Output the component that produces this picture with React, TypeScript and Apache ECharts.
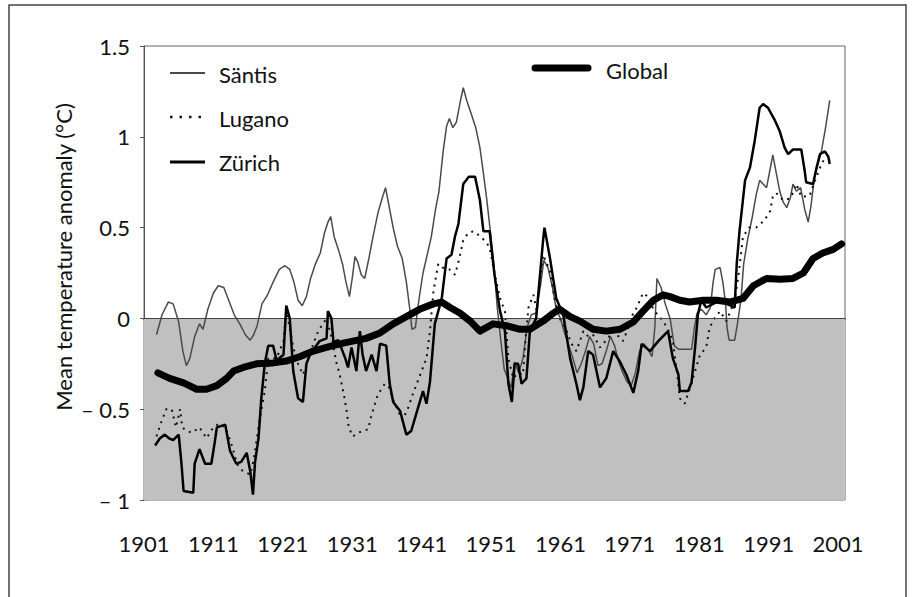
import React, { useEffect, useRef } from "react";
import * as echarts from "echarts";

// ---- Data ----
const santisYears = [1902.8,1903.6,1904.5,1905.2,1906.0,1906.6,1907.1,1907.6,1908.3,1909.0,1909.5,1910.2,1911.0,1911.7,1912.5,1913.2,1914.0,1914.8,1915.6,1916.3,1916.8,1917.3,1918.0,1918.8,1919.6,1920.5,1921.3,1922.0,1922.6,1923.2,1923.8,1924.4,1925.0,1925.7,1926.4,1927.0,1927.5,1927.9,1928.4,1929.0,1929.6,1930.1,1930.6,1931.0,1931.4,1931.8,1932.3,1932.8,1933.4,1934.0,1934.7,1935.3,1935.8,1936.3,1936.9,1937.5,1938.2,1938.8,1939.3,1939.6,1940.1,1940.6,1941.2,1941.8,1942.4,1943.0,1943.5,1944.1,1944.6,1945.0,1945.5,1946.0,1946.6,1947.0,1947.5,1948.2,1948.8,1949.4,1949.9,1950.4,1950.9,1951.4,1951.9,1952.4,1952.9,1953.4,1953.9,1954.4,1955.0,1955.6,1956.2,1956.8,1957.5,1958.2,1958.6,1959.2,1959.8,1960.4,1961.0,1961.6,1962.2,1962.8,1963.4,1964.0,1964.6,1965.2,1965.8,1966.4,1967.0,1967.6,1968.2,1968.8,1969.4,1970.0,1970.6,1971.2,1971.8,1972.4,1973.0,1973.6,1974.2,1974.6,1974.9,1975.5,1976.1,1976.8,1977.4,1978.0,1979.0,1979.9,1980.3,1980.7,1981.3,1982.0,1982.6,1983.0,1983.3,1984.0,1984.4,1984.8,1985.0,1985.3,1986.1,1986.5,1987.0,1987.4,1988.0,1988.6,1989.2,1989.7,1990.2,1990.7,1991.2,1991.6,1992.1,1992.6,1993.1,1993.6,1994.1,1994.5,1995.0,1995.6,1996.2,1996.7,1997.1,1997.6,1998.1,1998.6,1999.2,1999.8];
const santisValues = [-0.09,0.02,0.09,0.08,-0.02,-0.18,-0.26,-0.22,-0.1,-0.03,-0.06,0.05,0.14,0.18,0.17,0.1,0.02,-0.03,-0.09,-0.12,-0.09,-0.04,0.08,0.13,0.2,0.27,0.29,0.27,0.2,0.1,0.07,0.12,0.22,0.3,0.36,0.47,0.53,0.56,0.45,0.38,0.3,0.2,0.12,0.22,0.34,0.31,0.24,0.22,0.33,0.45,0.58,0.66,0.72,0.62,0.5,0.4,0.33,0.2,0.05,-0.06,-0.05,0.1,0.25,0.35,0.45,0.6,0.7,0.92,1.06,1.1,1.05,1.08,1.2,1.27,1.2,1.12,1.05,0.94,0.8,0.65,0.48,0.3,0.06,-0.12,-0.28,-0.33,-0.38,-0.24,-0.3,-0.22,-0.05,0.02,0.03,0.2,0.32,0.28,0.18,0.05,0.0,-0.08,-0.15,-0.22,-0.3,-0.25,-0.18,-0.1,-0.14,-0.26,-0.25,-0.18,-0.1,-0.15,-0.24,-0.3,-0.35,-0.37,-0.3,-0.18,-0.14,-0.17,-0.21,-0.05,0.22,0.17,0.08,0.0,-0.15,-0.17,-0.17,-0.17,-0.05,0.03,0.05,0.02,0.06,0.2,0.27,0.28,0.2,0.08,-0.05,-0.12,-0.12,-0.03,0.1,0.3,0.44,0.55,0.68,0.76,0.74,0.72,0.82,0.9,0.8,0.7,0.64,0.61,0.66,0.74,0.7,0.72,0.6,0.53,0.62,0.78,0.85,0.92,1.05,1.2];

const luganoYears = [1902.8,1903.5,1904.2,1905.0,1905.6,1906.2,1906.5,1907.2,1907.9,1909.0,1910.0,1911.0,1911.8,1912.7,1913.5,1914.4,1915.2,1916.3,1916.8,1917.3,1917.7,1918.4,1918.9,1920.1,1921.1,1921.5,1922.0,1922.5,1923.2,1923.9,1924.7,1925.4,1926.1,1927.3,1928.0,1928.7,1929.2,1929.8,1930.2,1930.5,1931.1,1931.8,1932.6,1933.3,1933.8,1934.7,1935.7,1936.3,1936.8,1937.5,1938.2,1939.0,1939.7,1940.3,1940.8,1941.7,1942.2,1942.7,1943.4,1944.0,1945.0,1945.8,1946.3,1947.0,1947.7,1948.5,1949.5,1950.3,1950.8,1951.5,1952.3,1953.0,1953.5,1954.2,1954.9,1955.6,1956.0,1956.4,1957.1,1957.6,1958.0,1958.5,1959.5,1960.2,1960.9,1961.9,1962.6,1963.3,1964.3,1965.0,1965.7,1966.7,1967.6,1968.6,1969.4,1970.0,1970.8,1971.4,1972.0,1972.9,1973.6,1974.4,1975.0,1975.8,1976.5,1977.2,1977.8,1978.2,1978.9,1979.7,1980.4,1981.1,1982.0,1982.5,1983.2,1984.0,1984.9,1985.5,1986.1,1986.7,1987.3,1988.2,1989.2,1990.4,1991.2,1991.6,1992.1,1993.1,1994.0,1994.5,1995.0,1995.7,1996.9,1997.6,1998.4,1998.9];
const luganoValues = [-0.65,-0.57,-0.5,-0.5,-0.6,-0.5,-0.6,-0.62,-0.63,-0.6,-0.66,-0.6,-0.58,-0.6,-0.68,-0.8,-0.84,-0.86,-0.78,-0.65,-0.55,-0.4,-0.22,-0.22,-0.125,0.04,-0.05,-0.16,-0.25,-0.31,-0.22,-0.14,-0.07,0.0,-0.1,-0.24,-0.31,-0.42,-0.51,-0.6,-0.65,-0.63,-0.62,-0.61,-0.53,-0.42,-0.36,-0.38,-0.44,-0.5,-0.56,-0.5,-0.42,-0.36,-0.31,-0.22,-0.07,0.15,0.3,0.28,0.27,0.24,0.31,0.43,0.47,0.48,0.45,0.42,0.39,0.25,0.11,0.04,-0.22,-0.33,-0.3,-0.31,-0.1,0.06,0.13,0.04,0.2,0.35,0.26,0.1,0.0,-0.07,-0.14,-0.18,-0.07,-0.1,-0.09,-0.16,-0.12,-0.07,-0.1,-0.125,-0.05,0.02,0.06,0.14,0.12,0.05,0.02,-0.015,-0.06,-0.125,-0.3,-0.44,-0.47,-0.38,-0.29,-0.2,-0.16,-0.05,0.0,0.04,-0.015,0.04,0.1,0.25,0.45,0.5,0.5,0.54,0.59,0.67,0.69,0.65,0.66,0.69,0.74,0.67,0.675,0.75,0.83,0.87];

const zurichYears = [1902.6,1903.3,1904.0,1904.6,1905.2,1906.0,1906.4,1906.7,1908.1,1908.3,1909.0,1909.8,1910.7,1911.2,1911.5,1912.7,1913.4,1914.3,1915.0,1915.8,1916.3,1916.7,1917.0,1917.5,1917.9,1918.4,1918.9,1919.6,1920.1,1921.1,1921.5,1922.0,1922.5,1923.2,1923.9,1924.4,1924.9,1926.3,1927.3,1927.5,1928.0,1928.3,1929.0,1930.0,1930.4,1930.9,1931.6,1932.1,1932.5,1933.0,1933.8,1934.5,1935.0,1935.9,1936.4,1936.9,1937.9,1938.8,1939.5,1940.5,1941.2,1941.7,1942.2,1942.9,1943.9,1944.6,1945.3,1945.8,1946.3,1947.0,1947.8,1948.7,1949.4,1949.9,1950.8,1951.5,1952.3,1953.0,1953.5,1954.0,1954.4,1954.9,1955.4,1956.1,1956.6,1957.5,1958.5,1958.7,1959.5,1960.4,1961.4,1962.4,1963.3,1963.8,1964.3,1965.0,1965.7,1966.7,1967.6,1968.6,1969.6,1970.5,1971.5,1972.2,1972.7,1973.9,1975.1,1976.5,1977.2,1978.0,1978.2,1979.4,1979.9,1980.4,1980.8,1981.3,1982.0,1983.0,1984.0,1985.0,1986.1,1986.4,1986.8,1987.6,1988.3,1989.0,1989.7,1990.2,1990.9,1991.9,1992.6,1993.3,1993.8,1994.5,1995.7,1996.2,1996.4,1997.4,1997.9,1998.4,1999.1,1999.6,1999.8];
const zurichValues = [-0.7,-0.66,-0.64,-0.66,-0.67,-0.64,-0.8,-0.95,-0.96,-0.8,-0.72,-0.8,-0.8,-0.68,-0.6,-0.585,-0.73,-0.8,-0.79,-0.74,-0.84,-0.97,-0.79,-0.66,-0.44,-0.25,-0.15,-0.15,-0.23,-0.2,0.07,0.0,-0.29,-0.44,-0.46,-0.25,-0.2,-0.125,-0.11,0.04,0.0,-0.13,-0.12,-0.22,-0.27,-0.16,-0.29,-0.07,-0.2,-0.29,-0.2,-0.29,-0.14,-0.15,-0.36,-0.46,-0.51,-0.64,-0.62,-0.49,-0.4,-0.47,-0.35,-0.03,0.11,0.33,0.35,0.45,0.52,0.74,0.78,0.78,0.65,0.48,0.48,0.24,0.04,-0.07,-0.36,-0.46,-0.25,-0.25,-0.36,-0.33,-0.07,0.0,0.43,0.5,0.33,0.11,0.02,-0.22,-0.36,-0.45,-0.38,-0.18,-0.2,-0.38,-0.33,-0.18,-0.24,-0.31,-0.41,-0.29,-0.14,-0.18,-0.125,-0.07,-0.22,-0.31,-0.4,-0.4,-0.35,-0.16,0.02,0.1,0.06,0.08,0.1,0.08,0.06,0.3,0.48,0.76,0.83,0.98,1.16,1.18,1.16,1.09,1.03,0.94,0.905,0.93,0.93,0.81,0.75,0.74,0.83,0.905,0.92,0.89,0.85];

const globalYears = [1903.0,1904.7,1906.7,1908.6,1910.0,1911.5,1912.9,1913.9,1915.3,1917.2,1919.6,1921.5,1923.5,1925.4,1927.3,1929.2,1931.1,1933.0,1935.0,1936.9,1938.8,1940.7,1942.7,1943.9,1945.1,1946.5,1948.0,1949.4,1951.3,1953.2,1955.2,1956.6,1958.5,1960.0,1960.9,1962.4,1963.8,1965.7,1967.6,1969.6,1971.5,1972.9,1974.4,1975.8,1976.8,1978.2,1979.6,1981.6,1983.5,1985.4,1987.3,1988.8,1990.7,1992.6,1994.5,1996.0,1997.4,1998.8,2000.3,2001.5];
const globalValues = [-0.3,-0.33,-0.355,-0.39,-0.39,-0.37,-0.33,-0.29,-0.27,-0.25,-0.245,-0.235,-0.21,-0.18,-0.16,-0.14,-0.125,-0.11,-0.08,-0.03,0.01,0.05,0.08,0.09,0.06,0.03,-0.015,-0.07,-0.03,-0.04,-0.06,-0.06,-0.015,0.03,0.05,0.01,-0.015,-0.06,-0.07,-0.06,-0.02,0.04,0.1,0.13,0.12,0.1,0.09,0.1,0.1,0.09,0.11,0.18,0.22,0.215,0.22,0.25,0.33,0.36,0.38,0.41];

const seriesNames = ["Säntis", "Lugano", "Zürich", "Global"];
const xStartYear = 1901;
const xTickStep = 10;
const yTicks = [-1, -0.5, 0, 0.5, 1, 1.5];

const FONT = "Lato, 'Open Sans', sans-serif";
const TEXT = "#111";

function toPairs(years: number[], values: number[]) {
  return years.map((y, i) => [y - xStartYear, values[i]]);
}

function legendText(name: string, x: number, y: number) {
  return {
    type: "text",
    x,
    y,
    silent: true,
    style: { text: name, font: `22px ${FONT}`, fill: TEXT, align: "left", verticalAlign: "middle" },
  };
}

export default function App() {
  const ref = useRef<HTMLDivElement>(null);
  useEffect(() => {
    document.body.style.margin = "0";
    if (!ref.current) return;
    const chart = echarts.init(ref.current, undefined, { renderer: "svg" });
    const option: any = {
      animation: false,
      backgroundColor: "#ffffff",
      textStyle: { fontFamily: FONT, color: TEXT },
      grid: { left: 144, right: 73, top: 46, bottom: 97, show: true, borderColor: "#666", borderWidth: 1 },
      xAxis: {
        type: "value",
        min: 0,
        max: 101,
        interval: xTickStep,
        axisLine: { show: true, lineStyle: { color: "#555", width: 2 } },
        axisTick: { show: true, length: 5, lineStyle: { color: "#555" } },
        axisLabel: {
          fontSize: 22,
          fontFamily: FONT,
          color: TEXT,
          margin: 32,
          showMaxLabel: false,
          formatter: (v: number) => String(xStartYear + v),
        },
        splitLine: { show: false },
      },
      yAxis: {
        type: "value",
        min: yTicks[0],
        max: yTicks[yTicks.length - 1],
        interval: 0.5,
        axisLine: { show: true, lineStyle: { color: "#555", width: 1 } },
        axisTick: { show: true, length: 4, lineStyle: { color: "#555" } },
        axisLabel: {
          fontSize: 22,
          fontFamily: FONT,
          color: TEXT,
          margin: 14,
          formatter: (v: number) => (v < 0 ? "– " + String(Math.abs(v)) : String(v)),
        },
        splitLine: { show: false },
      },
      graphic: [
        {
          type: "text",
          x: 63,
          y: 257,
          rotation: Math.PI / 2,
          silent: true,
          style: {
            text: "Mean temperature anomaly (°C)",
            font: `22px ${FONT}`,
            fill: TEXT,
            align: "center",
            verticalAlign: "middle",
          },
        },
        {
          type: "polyline",
          silent: true,
          shape: { points: [[9, 620], [9, 5], [906, 5], [906, 620]] },
          style: { stroke: "#444", lineWidth: 1.5, fill: "none" },
        },
        // legend samples
        { type: "line", silent: true, shape: { x1: 170, y1: 73, x2: 205, y2: 73 }, style: { stroke: "#4a4a4a", lineWidth: 2 } },
        legendText(seriesNames[0], 219, 74),
        { type: "line", silent: true, shape: { x1: 170, y1: 117, x2: 206, y2: 117 }, style: { stroke: "#111", lineWidth: 2.5, lineDash: [2.5, 7] } },
        legendText(seriesNames[1], 219, 118),
        { type: "line", silent: true, shape: { x1: 170, y1: 162, x2: 205, y2: 162 }, style: { stroke: "#000", lineWidth: 3 } },
        legendText(seriesNames[2], 219, 162),
        { type: "line", silent: true, shape: { x1: 535, y1: 68, x2: 588, y2: 68 }, style: { stroke: "#000", lineWidth: 7, lineCap: "round" } },
        legendText(seriesNames[3], 606, 70),
      ],
      series: [
        {
          name: seriesNames[0],
          type: "line",
          data: toPairs(santisYears, santisValues),
          symbol: "none",
          lineStyle: { color: "#4a4a4a", width: 1.5 },
          itemStyle: { color: "#4a4a4a" },
          z: 3,
          markArea: {
            silent: true,
            itemStyle: { color: "#c0c0c0" },
            data: [[{ yAxis: -1 }, { yAxis: 0 }]],
          },
          markLine: {
            silent: true,
            symbol: "none",
            label: { show: false },
            lineStyle: { color: "#444", width: 1, type: "solid" },
            data: [{ yAxis: 0 }],
          },
        },
        {
          name: seriesNames[1],
          type: "line",
          data: toPairs(luganoYears, luganoValues),
          symbol: "none",
          lineStyle: { color: "#111", width: 2, type: [2, 5] },
          itemStyle: { color: "#111" },
          z: 4,
        },
        {
          name: seriesNames[2],
          type: "line",
          data: toPairs(zurichYears, zurichValues),
          symbol: "none",
          lineStyle: { color: "#000", width: 2.5 },
          itemStyle: { color: "#000" },
          z: 5,
        },
        {
          name: seriesNames[3],
          type: "line",
          data: toPairs(globalYears, globalValues),
          symbol: "none",
          lineStyle: { color: "#000", width: 7, cap: "round", join: "round" },
          itemStyle: { color: "#000" },
          z: 6,
        },
      ],
    };
    chart.setOption(option);
    return () => chart.dispose();
  }, []);
  return <div ref={ref} style={{ width: 918, height: 597 }} />;
}
